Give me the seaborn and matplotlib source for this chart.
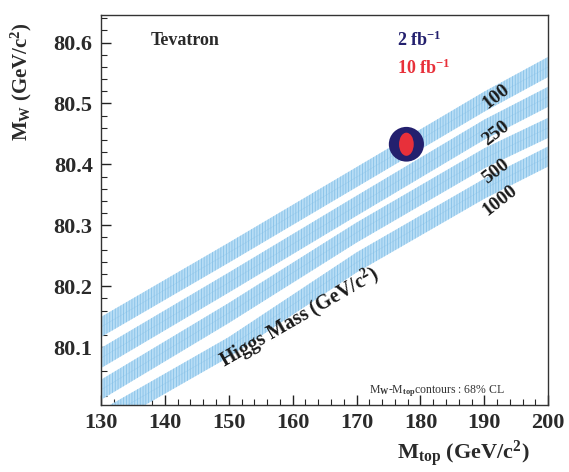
import numpy as np
import pandas as pd
import seaborn as sns
import matplotlib
matplotlib.use("Agg")
import matplotlib.pyplot as plt
from matplotlib.patches import Ellipse
from matplotlib.ticker import MultipleLocator

# ---- data ----
mtop = [130, 150, 170, 190, 200]
band_100 = [80.133, 80.255, 80.379, 80.503, 80.560]
band_250 = [80.082, 80.206, 80.332, 80.457, 80.511]
band_500 = [80.030, 80.156, 80.288, 80.410, 80.460]
band_1000 = [79.980, 80.100, 80.239, 80.360, 80.413]
higgs_masses = ["100", "250", "500", "1000"]
band_halfwidth = 0.0165

meas_mtop = 177.8
meas_mw = 80.433
lumi_labels = ["2 fb$^{\\mathbf{-1}}$", "10 fb$^{\\mathbf{-1}}$"]
err_mtop = [2.75, 1.15]   # half-widths of ellipses
err_mw = [0.0285, 0.019]

x_ticks = [130, 140, 150, 160, 170, 180, 190, 200]
y_ticks = [80.1, 80.2, 80.3, 80.4, 80.5, 80.6]

# ---- style ----
sns.set_theme(style="ticks")
plt.rcParams["font.family"] = ["Liberation Serif", "DejaVu Serif"]
plt.rcParams["font.weight"] = "bold"
plt.rcParams["mathtext.fontset"] = "custom"
plt.rcParams["mathtext.rm"] = "Liberation Serif:bold"
plt.rcParams["mathtext.bf"] = "Liberation Serif:bold"
plt.rcParams["mathtext.it"] = "Liberation Serif:bold"
plt.rcParams["hatch.linewidth"] = 0.6

fig = plt.figure(figsize=(5.69, 4.72), dpi=100)
ax = fig.add_axes([0.1775, 0.142, 0.786, 0.826])

rows = []
for name, vals in zip(higgs_masses, [band_100, band_250, band_500, band_1000]):
    for x, y in zip(mtop, vals):
        rows.append({"mtop": x, "mw": y, "mh": name})
df = pd.DataFrame(rows)

band_face = "#b8ddf5"
band_hatch = "#86c1e8"
for name in higgs_masses:
    sub = df[df.mh == name]
    ax.fill_between(sub.mtop, sub.mw - band_halfwidth, sub.mw + band_halfwidth,
                    facecolor=band_face, edgecolor=band_hatch, hatch="||||||",
                    linewidth=0, zorder=1)
sns.lineplot(data=df, x="mtop", y="mw", units="mh", estimator=None,
             color=band_hatch, linewidth=0.4, alpha=0.5, ax=ax, legend=False, zorder=1)

# ellipses
ell_colors = ["#23206e", "#e8303a"]
for w, h, c in zip(err_mtop, err_mw, ell_colors):
    ax.add_patch(Ellipse((meas_mtop, meas_mw), 2 * w, 2 * h, facecolor=c,
                         edgecolor="none", zorder=3))

ax.set_xlim(130, 200)
ax.set_ylim(80.005, 80.645)
ax.set_xticks(x_ticks)
ax.set_yticks(y_ticks)
ax.set_xticklabels([str(t) for t in x_ticks])
ax.set_yticklabels([f"{t:.1f}" for t in y_ticks])
ax.xaxis.set_minor_locator(MultipleLocator(2))
ax.yaxis.set_minor_locator(MultipleLocator(0.02))
ax.tick_params(which="major", direction="in", length=7, width=1, labelsize=16,
               colors="#222222", top=False, right=False, pad=6)
ax.tick_params(which="minor", direction="in", length=4, width=0.8,
               top=False, right=False)
for lab in ax.get_xticklabels() + ax.get_yticklabels():
    lab.set_fontweight("bold")
    lab.set_color("#2a2a2a")
for s in ax.spines.values():
    s.set_linewidth(1.0)
    s.set_color("#333333")
    s.set_visible(True)

ax.set_xlabel("M$_{\\mathrm{top}}$ (GeV/c$^{2}$)", fontsize=16, fontweight="bold",
              color="#2a2a2a")
ax.xaxis.set_label_coords(0.81, -0.085)
ax.set_ylabel("M$_{\\mathrm{W}}$ (GeV/c$^{2}$)", fontsize=15, fontweight="bold",
              color="#2a2a2a")
ax.yaxis.set_label_coords(-0.15, 0.83)

ax.text(137.8, 80.603, "Tevatron", fontsize=13, fontweight="bold", color="#2a2a2a",
        ha="left", va="center")
ax.text(176.3, 80.603, lumi_labels[0], fontsize=13, fontweight="bold",
        color=ell_colors[0], ha="left", va="center")
ax.text(176.3, 80.557, lumi_labels[1], fontsize=13, fontweight="bold",
        color=ell_colors[1], ha="left", va="center")

label_pos = [(191.8, 80.512), (191.8, 80.450), (191.8, 80.388), (192.4, 80.340)]
for name, (x, y) in zip(higgs_masses, label_pos):
    ax.text(x, y, name, fontsize=14, fontweight="bold", color="#1a1a1a",
            rotation=38, ha="center", va="center", zorder=4)

ax.text(161.0, 80.149, "Higgs Mass (GeV/c$^{2}$)", fontsize=14.5, fontweight="bold",
        color="#1a1a1a", rotation=30, ha="center", va="center", zorder=4)

ax.text(182.5, 80.027, "M$_{\\mathrm{W}}$-M$_{\\mathrm{top}}$contours : 68% CL",
        fontsize=8.5, fontweight="normal", color="#333333", ha="center", va="center")

fig.savefig("out.png", dpi=100, facecolor="white")
